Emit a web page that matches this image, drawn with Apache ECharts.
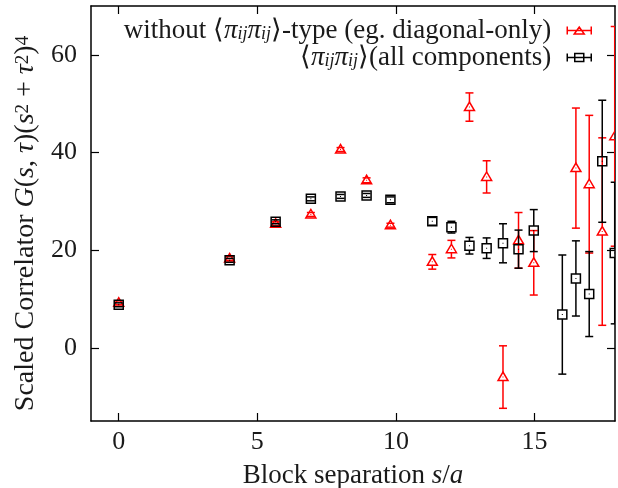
<!DOCTYPE html>
<html>
<head>
<meta charset="utf-8">
<script src="https://cdn.jsdelivr.net/npm/echarts@6/dist/echarts.min.js"></script>
<style>html,body{margin:0;padding:0;background:#fff}#c{width:618px;height:488px}</style>
</head>
<body>
<div id="c"></div>
<script>
const xValues = [0, 4, 5.66, 6.93, 8, 8.94, 9.80, 11.31, 12.00, 12.65, 13.27, 13.86, 14.42, 14.97, 16.00, 16.49, 16.97, 17.44, 17.89];
const redY   = [9.2, 18.3, 25.4, 27.3, 40.6, 34.3, 25.1, 17.6, 20.2, 49.3, 35.0, -6.0, 22.0, 17.4, null, 36.8, 33.5, 23.8, 43.3];
const redErr = [0.4, 0.4, 0.4, 0.4, 0.4, 0.5, 0.4, 1.5, 1.8, 2.9, 3.3, 6.4, 5.7, 6.6, null, 12.3, 14.1, 19.2, 22.5];
const blackY   = [8.8, 17.9, 25.8, 30.5, 31.0, 31.2, 30.3, 25.9, 24.7, 20.9, 20.4, 21.4, 20.2, 24.0, 6.8, 14.2, 11.0, 38.2, 19.4];
const blackErr = [0.4, 0.4, 0.4, 0.4, 0.4, 0.4, 0.6, 0.8, 1.2, 1.7, 2.1, 4.0, 3.9, 4.3, 12.2, 7.7, 8.7, 12.5, 14.5];
const xTicks = [0, 5, 10, 15];
const yTicks = [0, 20, 40, 60];
const redName = 'without ⟨πijπij⟩-type (eg. diagonal-only)';
const blackName = '⟨πijπij⟩(all components)';

const FONT = 'Liberation Serif';
const FS = 27;
const TFS = 26;

function rows(ys, es) {
  const out = [];
  for (let i = 0; i < xValues.length; i++) {
    if (ys[i] === null) continue;
    out.push([xValues[i], ys[i], es[i]]);
  }
  return out;
}

function makeRender(kind, color) {
  return function (params, api) {
    const x = api.value(0), y = api.value(1), e = api.value(2);
    const p = api.coord([x, y]);
    const t = api.coord([x, y + e]);
    const b = api.coord([x, y - e]);
    const cw = 4;
    const lw = 1.5;
    const st = { stroke: color, lineWidth: lw, fill: null };
    const ch = [];
    let upEdge, downEdge;
    if (kind === 'tri') { upEdge = p[1] - 5; downEdge = p[1] + 3.5; }
    else { upEdge = p[1] - 4.5; downEdge = p[1] + 4.5; }
    ch.push({ type: 'line', shape: { x1: t[0] - cw, y1: t[1], x2: t[0] + cw, y2: t[1] }, style: st });
    ch.push({ type: 'line', shape: { x1: b[0] - cw, y1: b[1], x2: b[0] + cw, y2: b[1] }, style: st });
    if (t[1] < upEdge) ch.push({ type: 'line', shape: { x1: p[0], y1: t[1], x2: p[0], y2: upEdge }, style: st });
    if (b[1] > downEdge) ch.push({ type: 'line', shape: { x1: p[0], y1: downEdge, x2: p[0], y2: b[1] }, style: st });
    if (kind === 'tri') {
      ch.push({ type: 'polygon', shape: { points: [[p[0] - 5, p[1] + 3.5], [p[0], p[1] - 5], [p[0] + 5, p[1] + 3.5]] }, style: { stroke: color, lineWidth: lw, fill: null } });
    } else {
      ch.push({ type: 'rect', shape: { x: p[0] - 4.5, y: p[1] - 4.5, width: 9, height: 9 }, style: { stroke: color, lineWidth: lw, fill: null } });
    }
    ch.push({ type: 'rect', shape: { x: p[0] - 0.5, y: p[1] - 0.5, width: 1, height: 1 }, style: { fill: color } });
    return { type: 'group', children: ch };
  };
}

const rich = {
  t: { fontFamily: FONT, fontSize: FS, lineHeight: 25, color: '#1a1a1a' },
  m: { fontFamily: FONT, fontSize: FS, lineHeight: 25, fontStyle: 'italic', color: '#1a1a1a' },
  s: { fontFamily: FONT, fontSize: 18, lineHeight: 14, fontStyle: 'italic', verticalAlign: 'bottom', color: '#1a1a1a' },
  p: { fontFamily: FONT, fontSize: 18, lineHeight: 14, verticalAlign: 'top', color: '#1a1a1a' }
};
const yRich = {
  t: { fontFamily: FONT, fontSize: 28, lineHeight: 26, color: '#1a1a1a' },
  m: { fontFamily: FONT, fontSize: 28, lineHeight: 26, fontStyle: 'italic', color: '#1a1a1a' },
  p: { fontFamily: FONT, fontSize: 19, lineHeight: 14, verticalAlign: 'top', color: '#1a1a1a' }
};
const legendRich = Object.assign({}, rich, {
  e: { fontFamily: FONT, fontSize: FS, lineHeight: 25, color: '#1a1a1a', padding: [0, 11, 0, 0] }
});

const chart = echarts.init(document.getElementById('c'), null, { renderer: 'canvas' });
chart.setOption({
  animation: false,
  backgroundColor: '#fff',
  grid: { left: 91, right: 3, top: 6, bottom: 67, outerBoundsMode: 'none', containLabel: false },
  legend: {
    orient: 'vertical',
    align: 'right',
    right: 21,
    top: 12,
    itemGap: 0,
    itemWidth: 24,
    itemHeight: 10,
    textStyle: { rich: legendRich },
    formatter: function (name) {
      if (name === redName) return '{t|without ⟨}{m|π}{s|ij}{m|π}{s|ij}{t|⟩-type (eg. diagonal-only)}{e|}';
      return '{t|⟨}{m|π}{s|ij}{m|π}{s|ij}{t|⟩(all components)}{e|}';
    },
    data: [
      { name: redName, icon: 'path://M0,5L24,5M0,1L0,9M24,1L24,9M7,8.5L12,1.5L17,8.5Z', itemStyle: { color: 'rgba(0,0,0,0)', borderColor: '#ff0000', borderWidth: 1.5 } },
      { name: blackName, icon: 'path://M0,5L24,5M0,1L0,9M24,1L24,9M7.5,1L16.5,1L16.5,9L7.5,9Z', itemStyle: { color: 'rgba(0,0,0,0)', borderColor: '#000000', borderWidth: 1.5 } }
    ]
  },
  xAxis: [{
    type: 'value', min: -1, max: 17.9, position: 'bottom',
    name: '{t|Block separation }{m|s}{t|/}{m|a}',
    nameLocation: 'middle', nameGap: 42,
    nameTextStyle: { rich: rich },
    axisLine: { show: true, onZero: false, lineStyle: { color: '#000', width: 1.5 } },
    axisTick: { show: true, inside: true, length: 8, customValues: xTicks, lineStyle: { color: '#000', width: 1.2 } },
    axisLabel: { customValues: xTicks, margin: 8, fontFamily: FONT, fontSize: TFS, color: '#1a1a1a' },
    splitLine: { show: false }
  }, {
    type: 'value', min: -1, max: 17.9, position: 'top',
    axisLine: { show: true, onZero: false, lineStyle: { color: '#000', width: 1.5 } },
    axisTick: { show: true, inside: true, length: 8, customValues: xTicks, lineStyle: { color: '#000', width: 1.2 } },
    axisLabel: { show: false },
    splitLine: { show: false }
  }],
  yAxis: [{
    type: 'value', min: -15, max: 70, position: 'left',
    name: '{t|Scaled Correlator }{m|G}{t|(}{m|s}{t|, }{m|τ}{t|)(}{m|s}{p|2}{t| + }{m|τ}{p|2}{t|)}{p|4}',
    nameLocation: 'middle', nameGap: 46, nameRotate: 90,
    nameTextStyle: { rich: yRich, padding: [0, 20, 0, 0] },
    axisLine: { show: true, onZero: false, lineStyle: { color: '#000', width: 1.5 } },
    axisTick: { show: true, inside: true, length: 8, customValues: yTicks, lineStyle: { color: '#000', width: 1.2 } },
    axisLabel: { customValues: yTicks, margin: 14, fontFamily: FONT, fontSize: TFS, color: '#1a1a1a' },
    splitLine: { show: false }
  }, {
    type: 'value', min: -15, max: 70, position: 'right',
    axisLine: { show: true, onZero: false, lineStyle: { color: '#000', width: 1.5 } },
    axisTick: { show: true, inside: true, length: 8, customValues: yTicks, lineStyle: { color: '#000', width: 1.2 } },
    axisLabel: { show: false },
    splitLine: { show: false }
  }],
  series: [{
    name: redName, type: 'custom', xAxisIndex: 0, yAxisIndex: 0, clip: true,
    itemStyle: { color: '#ff0000' },
    renderItem: makeRender('tri', '#ff0000'),
    encode: { x: 0, y: 1 },
    data: rows(redY, redErr)
  }, {
    name: blackName, type: 'custom', xAxisIndex: 0, yAxisIndex: 0, clip: true,
    itemStyle: { color: '#000000' },
    renderItem: makeRender('sq', '#000000'),
    encode: { x: 0, y: 1 },
    data: rows(blackY, blackErr)
  }]
});
</script>
</body>
</html>
